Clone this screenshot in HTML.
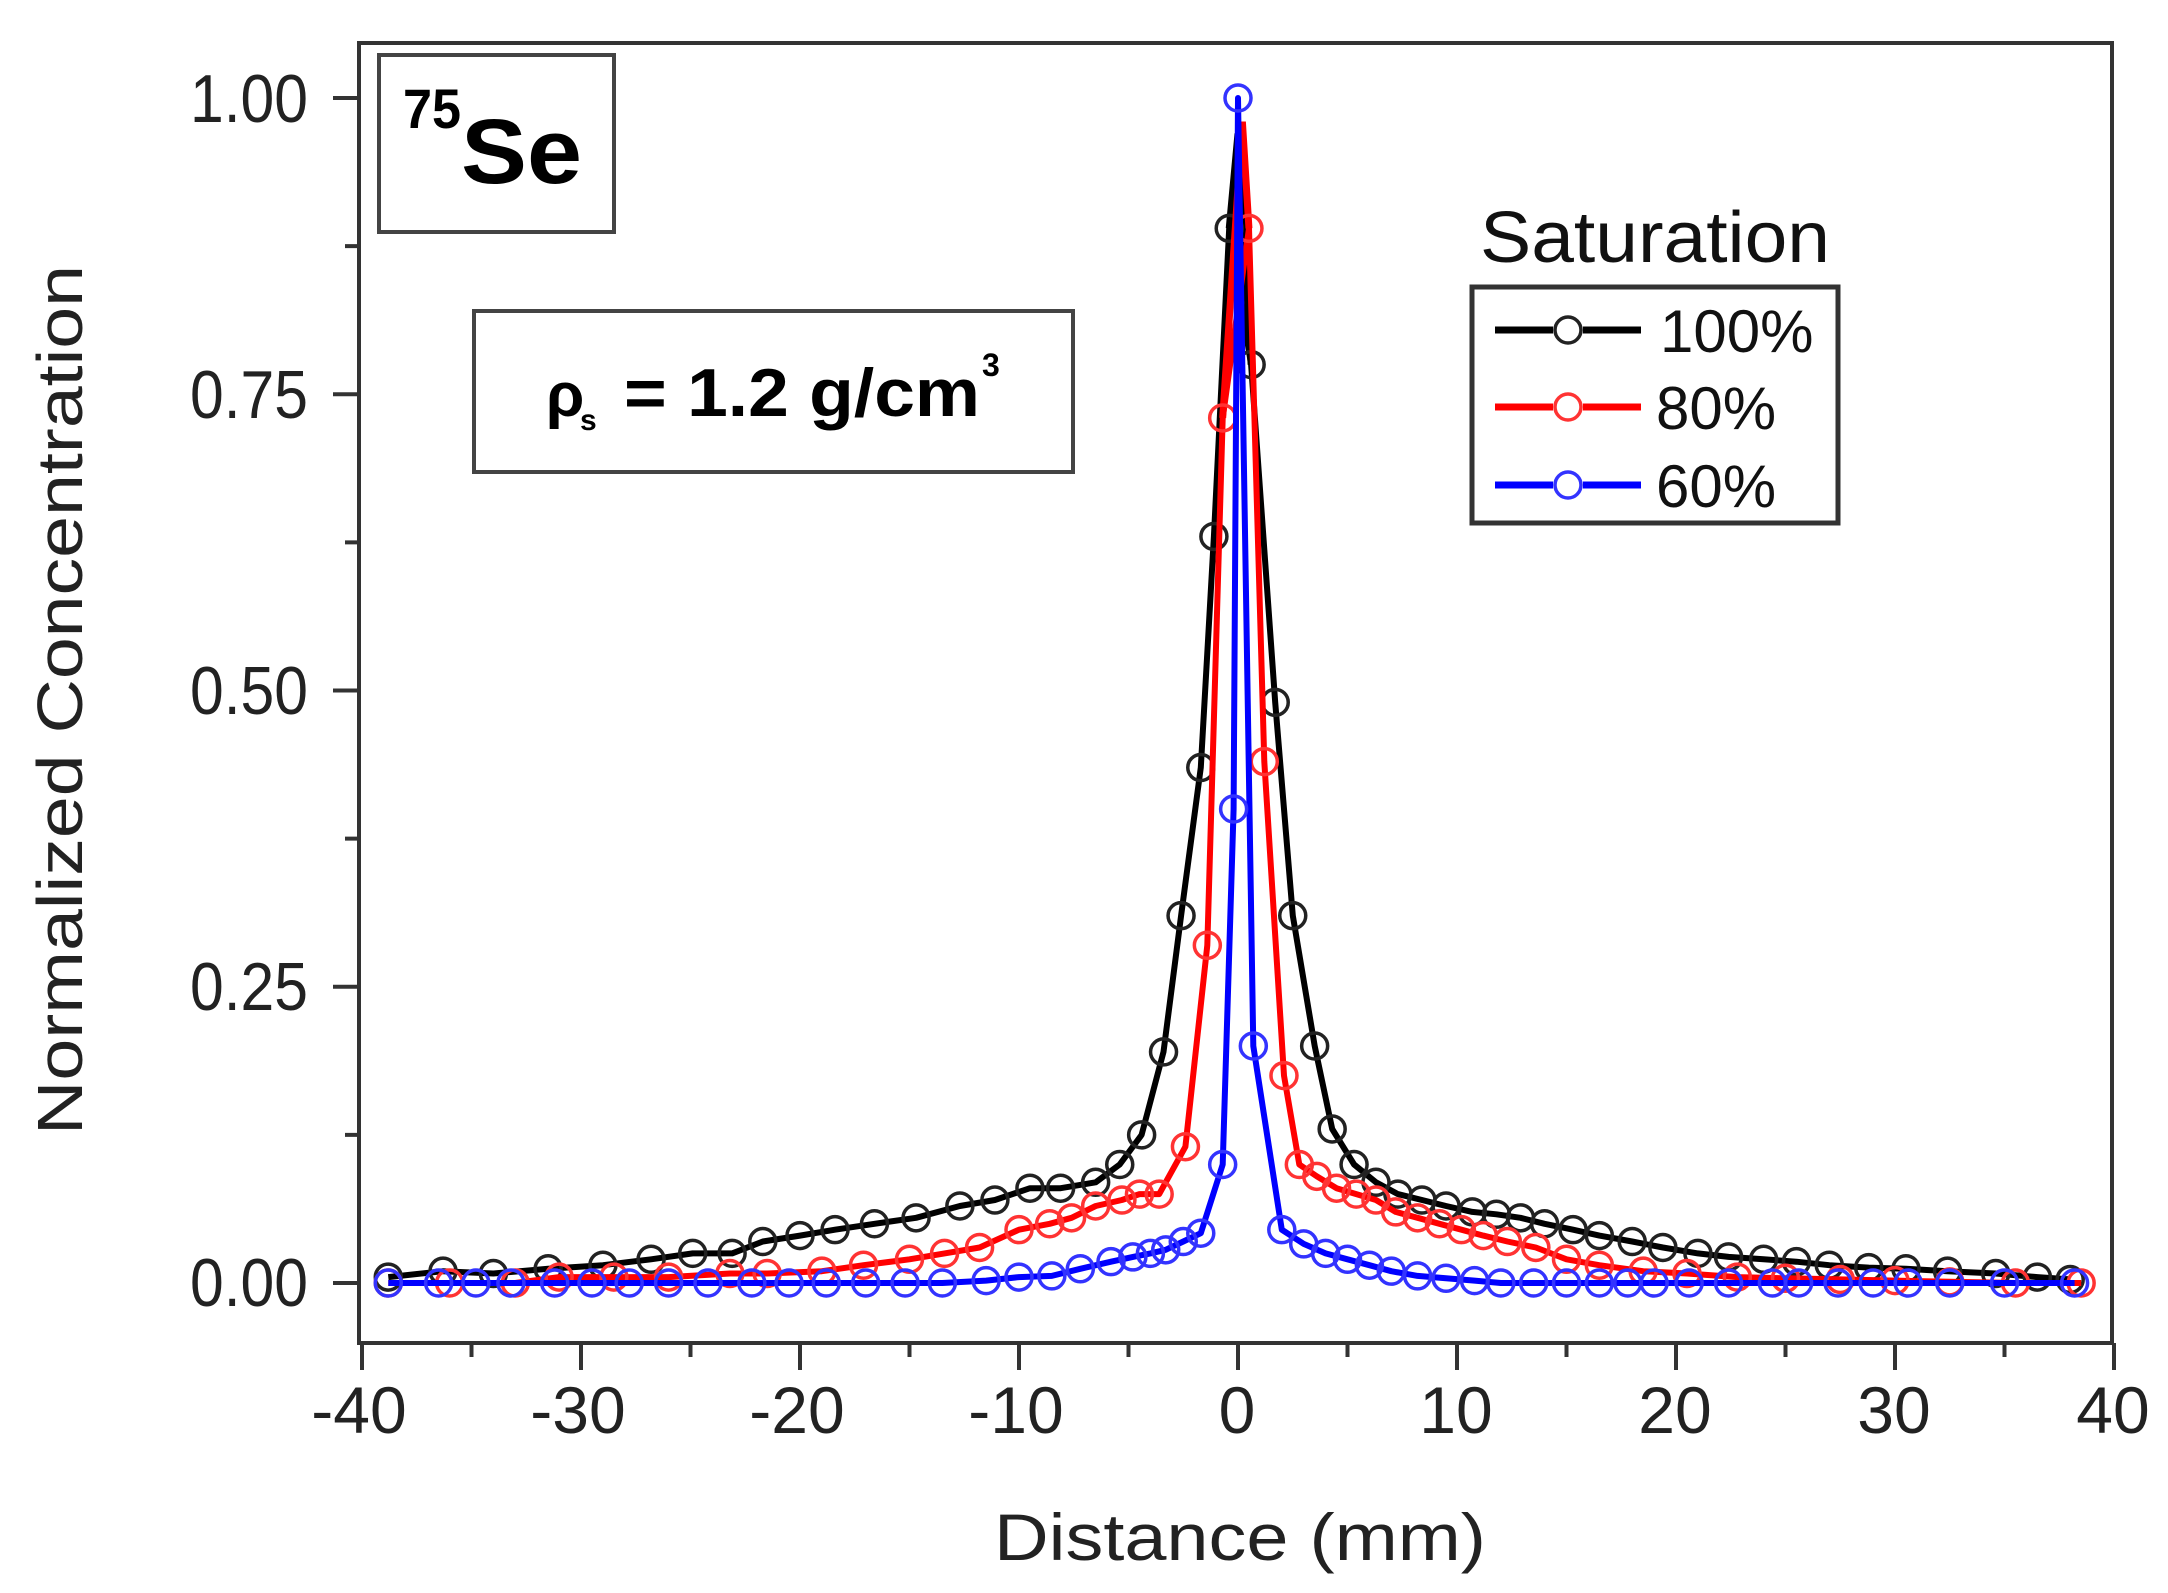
<!DOCTYPE html>
<html><head><meta charset="utf-8"><style>
html,body{margin:0;padding:0;background:#fff;}
svg{display:block;}
</style></head><body>
<svg id="s" width="2168" height="1593" viewBox="0 0 2168 1593" xmlns="http://www.w3.org/2000/svg" font-family="Liberation Sans, Arial, sans-serif">
<rect width="2168" height="1593" fill="#fff"/>
<g id="ticks" stroke="#333" stroke-width="4"></g>
<g id="data"></g>
<rect x="359" y="43" width="1753" height="1300" fill="none" stroke="#333" stroke-width="4"/>
<g fill="#222" font-size="68" text-anchor="end">
<text x="308" y="1306" textLength="118" lengthAdjust="spacingAndGlyphs">0.00</text>
<text x="308" y="1010" textLength="118" lengthAdjust="spacingAndGlyphs">0.25</text>
<text x="308" y="714" textLength="118" lengthAdjust="spacingAndGlyphs">0.50</text>
<text x="308" y="418" textLength="118" lengthAdjust="spacingAndGlyphs">0.75</text>
<text x="308" y="122" textLength="118" lengthAdjust="spacingAndGlyphs">1.00</text>
</g>
<g fill="#222" font-size="66" text-anchor="middle">
<text x="359" y="1433">-40</text>
<text x="578" y="1433">-30</text>
<text x="797" y="1433">-20</text>
<text x="1016" y="1433">-10</text>
<text x="1237" y="1433">0</text>
<text x="1456" y="1433">10</text>
<text x="1675" y="1433">20</text>
<text x="1894" y="1433">30</text>
<text x="2113" y="1433">40</text>
</g>
<text x="1240" y="1560" font-size="66" text-anchor="middle" fill="#222" textLength="492" lengthAdjust="spacingAndGlyphs">Distance (mm)</text>
<text transform="translate(82,700) rotate(-90)" font-size="64" text-anchor="middle" fill="#222" textLength="870" lengthAdjust="spacingAndGlyphs">Normalized Concentration</text>
<rect x="379" y="55" width="235" height="177" fill="#fff" stroke="#444" stroke-width="4"/>
<text x="403" y="128" font-size="56" font-weight="bold" fill="#000" textLength="58" lengthAdjust="spacingAndGlyphs">75</text>
<text x="461" y="183" font-size="92" font-weight="bold" fill="#000" textLength="121" lengthAdjust="spacingAndGlyphs">Se</text>
<rect x="474" y="311" width="599" height="161" fill="#fff" stroke="#444" stroke-width="4"/>
<text x="546" y="416" font-size="62" font-weight="bold" fill="#000">ρ</text>
<text x="580" y="430" font-size="30" font-weight="bold" fill="#000">s</text>
<text x="624" y="416" font-size="68" font-weight="bold" fill="#000" textLength="356" lengthAdjust="spacingAndGlyphs">= 1.2 g/cm</text>
<text x="982" y="376" font-size="32" font-weight="bold" fill="#000">3</text>
<text x="1480" y="262" font-size="72" fill="#111" textLength="350" lengthAdjust="spacingAndGlyphs">Saturation</text>
<rect x="1472" y="287" width="366" height="236" fill="#fff" stroke="#333" stroke-width="5"/>
<g stroke-width="7">
<line x1="1495" y1="330" x2="1553" y2="330" stroke="#000"/><line x1="1583" y1="330" x2="1641" y2="330" stroke="#000"/>
<circle cx="1568" cy="330" r="13" fill="none" stroke="#222" stroke-width="3.5"/>
<line x1="1495" y1="407" x2="1553" y2="407" stroke="#f00"/><line x1="1583" y1="407" x2="1641" y2="407" stroke="#f00"/>
<circle cx="1568" cy="407" r="13" fill="none" stroke="#f33" stroke-width="3.5"/>
<line x1="1495" y1="485" x2="1553" y2="485" stroke="#00f"/><line x1="1583" y1="485" x2="1641" y2="485" stroke="#00f"/>
<circle cx="1568" cy="485" r="13" fill="none" stroke="#33f" stroke-width="3.5"/>
</g>
<g font-size="60" fill="#111">
<text x="1660" y="352">100%</text>
<text x="1656" y="429">80%</text>
<text x="1656" y="507">60%</text>
</g>
</svg>
<script>
(function(){
var NS="http://www.w3.org/2000/svg";
function X(v){return 1238+v*21.9;}
function Y(v){return 1283-v*1185;}
var t=document.getElementById('ticks');
function ln(g,x1,y1,x2,y2,c,w){var l=document.createElementNS(NS,'line');l.setAttribute('x1',x1);l.setAttribute('y1',y1);l.setAttribute('x2',x2);l.setAttribute('y2',y2);if(c)l.setAttribute('stroke',c);if(w)l.setAttribute('stroke-width',w);g.appendChild(l);}
for(var i=0;i<=16;i++){var x=X(-40+i*5);ln(t,x,1343,x,i%2==0?1370:1357);}
for(var j=0;j<=8;j++){var y=Y(j*0.125);ln(t,359,y,j%2==0?333:345,y);}
var black=[[-38.8,0.005],[-36.3,0.01],[-34,0.008],[-31.5,0.012],[-29,0.015],[-26.8,0.02],[-24.9,0.025],[-23.1,0.025],[-21.7,0.035],[-20,0.04],[-18.4,0.045],[-16.6,0.05],[-14.7,0.055],[-12.7,0.065],[-11.1,0.07],[-9.5,0.08],[-8.1,0.08],[-6.5,0.085],[-5.4,0.1],[-4.4,0.125],[-3.4,0.195],[-2.6,0.31],[-1.7,0.435],[-1.1,0.63],[-0.4,0.89],[0.6,0.775],[1.7,0.49],[2.5,0.31],[3.5,0.2],[4.3,0.13],[5.3,0.1],[6.3,0.085],[7.3,0.075],[8.4,0.07],[9.5,0.065],[10.7,0.06],[11.8,0.058],[12.9,0.055],[14,0.05],[15.3,0.045],[16.5,0.04],[18,0.035],[19.4,0.03],[21,0.025],[22.4,0.022],[24,0.02],[25.5,0.018],[27,0.015],[28.8,0.013],[30.5,0.012],[32.4,0.01],[34.6,0.008],[36.5,0.005],[38,0.003]];
var red=[[-38.8,0],[-36,0],[-33,0],[-31,0.005],[-28.5,0.005],[-26,0.005],[-23.2,0.008],[-21.5,0.008],[-19,0.01],[-17.1,0.015],[-15,0.02],[-13.4,0.025],[-11.8,0.03],[-10,0.045],[-8.6,0.05],[-7.6,0.055],[-6.5,0.065],[-5.3,0.07],[-4.5,0.075],[-3.6,0.075],[-2.4,0.115],[-1.4,0.285],[-0.7,0.73],[0.5,0.89],[1.2,0.44],[2.1,0.175],[2.8,0.1],[3.6,0.09],[4.5,0.08],[5.4,0.075],[6.3,0.07],[7.2,0.06],[8.2,0.055],[9.2,0.05],[10.2,0.045],[11.2,0.04],[12.3,0.035],[13.6,0.03],[15,0.02],[16.5,0.015],[18.5,0.01],[20.5,0.008],[22.8,0.005],[25,0.004],[27.5,0.003],[30,0.002],[32.5,0.001],[35.5,0],[38.5,0]];
var blue=[[-38.8,0],[-36.5,0],[-34.8,0],[-33.2,0],[-31.2,0],[-29.5,0],[-27.8,0],[-26,0],[-24.2,0],[-22.2,0],[-20.5,0],[-18.8,0],[-17,0],[-15.2,0],[-13.5,0],[-11.5,0.002],[-10,0.005],[-8.5,0.006],[-7.2,0.012],[-5.8,0.018],[-4.8,0.022],[-4,0.025],[-3.3,0.028],[-2.5,0.035],[-1.7,0.042],[-0.7,0.1],[-0.2,0.4],[0,1.0],[0.7,0.2],[2,0.045],[3,0.033],[4,0.025],[5,0.02],[6,0.015],[7,0.01],[8.2,0.006],[9.5,0.004],[10.8,0.002],[12,0],[13.5,0],[15,0],[16.5,0],[17.8,0],[19,0],[20.6,0],[22.4,0],[24.4,0],[25.6,0],[27.4,0],[29,0],[30.6,0],[32.5,0],[35,0],[38.2,0]];
var d=document.getElementById('data');
function series(pts,lc,mc,peak){
 var p=pts.slice();
 var s='';
 for(var i=0;i<p.length;i++){s+=(i?'L':'M')+X(p[i][0]).toFixed(1)+','+Y(p[i][1]).toFixed(1);}
 var pa=document.createElementNS(NS,'path');pa.setAttribute('d',s);pa.setAttribute('fill','none');pa.setAttribute('stroke',lc);pa.setAttribute('stroke-width','6');pa.setAttribute('stroke-linejoin','round');d.appendChild(pa);
 if(peak){var pk=document.createElementNS(NS,'path');pk.setAttribute('d',peak);pk.setAttribute('fill','none');pk.setAttribute('stroke',lc);pk.setAttribute('stroke-width','7');d.appendChild(pk);}
 for(var i=0;i<p.length;i++){var c=document.createElementNS(NS,'circle');c.setAttribute('cx',X(p[i][0]));c.setAttribute('cy',Y(p[i][1]));c.setAttribute('r','13');c.setAttribute('fill','none');c.setAttribute('stroke',mc);c.setAttribute('stroke-width','3.5');d.appendChild(c);}
}
series(black,'#000','#222','M'+X(-0.4)+','+Y(0.89)+'L'+X(0)+','+Y(0.97)+'L'+X(0.6)+','+Y(0.775));
series(red,'#f00','#f33','M'+X(-0.7)+','+Y(0.73)+'L'+X(0.2)+','+Y(0.98)+'L'+X(0.5)+','+Y(0.89));
series(blue,'#00f','#33f',null);
})();
</script>
</body></html>
